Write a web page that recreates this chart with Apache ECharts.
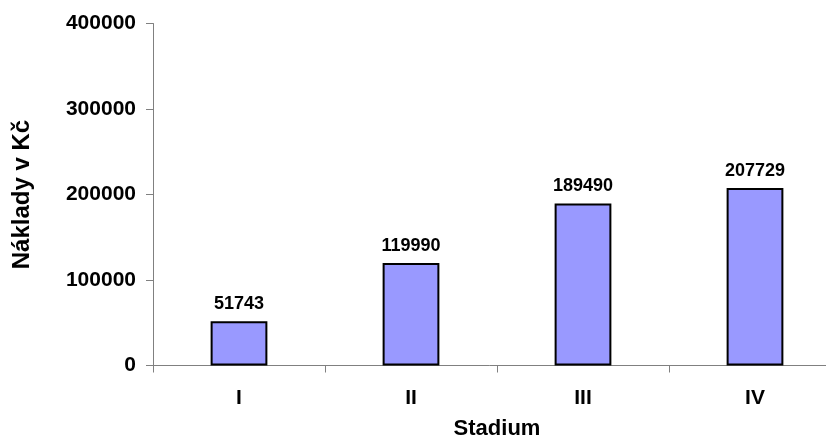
<!DOCTYPE html>
<html>
<head>
<meta charset="utf-8">
<style>
html,body{margin:0;padding:0;background:#fff;}
#chart{width:826px;height:441px;}
</style>
<script src="https://cdn.jsdelivr.net/npm/echarts@6/dist/echarts.min.js"></script>
</head>
<body>
<div id="chart"></div>
<script>
var categories = ['I', 'II', 'III', 'IV'];
var costs = [51743, 119990, 189490, 207729];
var yTicks = [0, 100000, 200000, 300000, 400000];
var xTitle = 'Stadium';
var yTitle = 'Náklady v Kč';

var FONT = '"Liberation Sans", Arial, sans-serif';
var chart = echarts.init(document.getElementById('chart'), null, {renderer: 'canvas'});
chart.setOption({
  animation: false,
  backgroundColor: '#ffffff',
  grid: {left: 153, right: -15, top: 23.5, bottom: 75.5, containLabel: false, outerBoundsMode: 'none'},
  xAxis: {
    type: 'category',
    data: categories,
    name: xTitle,
    nameLocation: 'middle',
    nameGap: 52,
    nameTextStyle: {fontFamily: FONT, fontWeight: 'bold', fontSize: 22, color: '#000'},
    axisLine: {lineStyle: {color: '#808080', width: 1}},
    axisTick: {show: true, length: 7, lineStyle: {color: '#808080'}},
    axisLabel: {fontFamily: FONT, fontWeight: 'bold', fontSize: 21, color: '#000', margin: 22}
  },
  yAxis: {
    type: 'value',
    min: yTicks[0],
    max: yTicks[yTicks.length - 1],
    interval: yTicks[1] - yTicks[0],
    name: yTitle,
    nameLocation: 'middle',
    nameGap: 119,
    nameRotate: 90,
    nameTextStyle: {fontFamily: FONT, fontWeight: 'bold', fontSize: 24, color: '#000'},
    axisLine: {show: true, lineStyle: {color: '#808080', width: 1}},
    axisTick: {show: true, length: 7, lineStyle: {color: '#808080'}},
    splitLine: {show: false},
    axisLabel: {
      fontFamily: FONT, fontWeight: 'bold', fontSize: 21, color: '#000', margin: 17,
      formatter: function (v) { return String(v); }
    }
  },
  series: [{
    type: 'bar',
    data: costs,
    barWidth: '33%',
    itemStyle: {color: '#9999FF', borderColor: '#000', borderWidth: 2},
    label: {
      show: true,
      position: 'top',
      distance: 8,
      fontFamily: FONT,
      fontWeight: 'bold',
      fontSize: 18,
      color: '#000'
    }
  }]
});
</script>
</body>
</html>
